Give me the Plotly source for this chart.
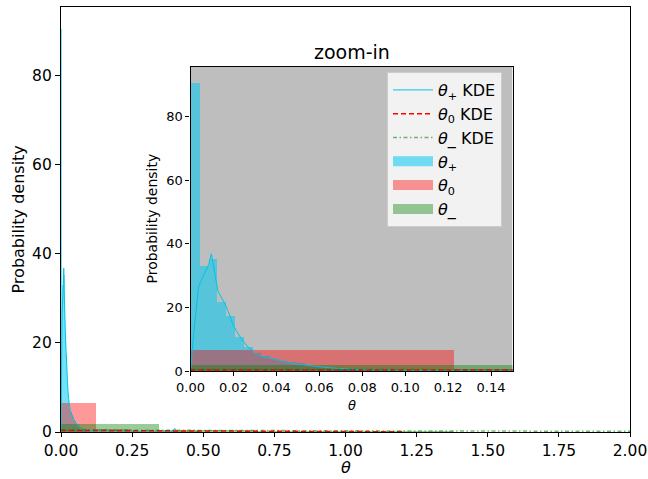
import numpy as np
import plotly.graph_objects as go

# ---------------- data ----------------
# theta_+ histogram (density), equal-width bins starting at 0
plus_bin_width = 0.0041
plus_density = [90.5, 33.1, 35.2, 21.8, 17.3, 10.8, 7.5, 5.5, 4.6, 3.9, 3.3, 2.8,
                2.4, 2.0, 1.7, 1.4, 1.2, 1.0, 0.85, 0.7, 0.6, 0.5, 0.42, 0.35,
                0.3, 0.25, 0.2, 0.17, 0.14, 0.12, 0.1, 0.08, 0.06, 0.05, 0.04]
# theta_0 histogram
zero_bin_width = 0.1225
zero_density = [6.6, 0.7, 0.25, 0.12, 0.08, 0.06, 0.05, 0.03, 0.02, 0.02]
# theta_- histogram
minus_bin_width = 0.345
minus_density = [1.8, 0.35, 0.15, 0.12, 0.1, 0.08, 0.06, 0.05, 0.04, 0.03]

# KDE curves
plus_kde_x = [0.0, 0.0015, 0.0038, 0.0068, 0.0085, 0.0097, 0.011, 0.0128, 0.0159,
              0.018, 0.0201, 0.022, 0.024, 0.0268, 0.0287, 0.031, 0.0326, 0.0365,
              0.0396, 0.043, 0.046, 0.05, 0.055, 0.059, 0.065, 0.073, 0.08, 0.088,
              0.095, 0.104, 0.12, 0.15, 0.2, 0.3, 0.38, 0.395, 0.4, 0.405, 0.41]
plus_kde_y = [0.0, 12.0, 26.6, 30.8, 33.5, 36.8, 32.0, 25.0, 21.3, 18.0, 14.0, 12.0,
              9.8, 7.5, 6.6, 5.2, 4.7, 4.2, 3.6, 3.0, 2.6, 2.2, 1.7, 1.4, 1.0, 0.6,
              0.4, 0.3, 0.2, 0.1, 0.05, 0.02, 0.01, 0.005, 0.01, 0.3, 0.8, 0.2, 0.0]
zero_kde_x = [0.0, 0.1, 0.2, 0.3, 0.4, 0.6, 0.8, 1.0, 1.2]
zero_kde_y = [0.35, 0.33, 0.3, 0.27, 0.22, 0.15, 0.1, 0.07, 0.05]
minus_kde_x = [0.0, 0.2, 0.35, 0.5, 0.7, 1.0, 1.3, 1.6, 2.0, 2.5, 3.0, 3.45]
minus_kde_y = [0.45, 0.4, 0.32, 0.3, 0.28, 0.25, 0.22, 0.2, 0.18, 0.12, 0.08, 0.05]

main_x_ticks = [0.0, 0.25, 0.5, 0.75, 1.0, 1.25, 1.5, 1.75, 2.0]
inset_x_ticks = [0.0, 0.02, 0.04, 0.06, 0.08, 0.10, 0.12, 0.14]
y_ticks = [0, 20, 40, 60, 80]

# ---------------- styles ----------------
C_PLUS_BAR = "rgba(0,200,240,0.55)"
C_PLUS_LINE = "#00c3e6"
C_ZERO_BAR = "rgba(255,0,0,0.4)"
C_MINUS_BAR = "rgba(0,128,0,0.4)"
FONT = "DejaVu Sans"
X_MAIN = [0, 2]
X_INSET = [0, 0.15]
Y_RANGE = [0, 95.5]

fig = go.Figure()


def edges(width, n):
    return [i * width for i in range(n)]


for xa, ya in [("x", "y"), ("x2", "y2")]:
    fig.add_trace(go.Bar(x=edges(plus_bin_width, len(plus_density)), y=plus_density,
                         width=plus_bin_width, offset=0, marker_color=C_PLUS_BAR,
                         marker_line_width=0, showlegend=False, xaxis=xa, yaxis=ya))
    fig.add_trace(go.Bar(x=edges(zero_bin_width, len(zero_density)), y=zero_density,
                         width=zero_bin_width, offset=0, marker_color=C_ZERO_BAR,
                         marker_line_width=0, showlegend=False, xaxis=xa, yaxis=ya))
    fig.add_trace(go.Bar(x=edges(minus_bin_width, len(minus_density)), y=minus_density,
                         width=minus_bin_width, offset=0, marker_color=C_MINUS_BAR,
                         marker_line_width=0, showlegend=False, xaxis=xa, yaxis=ya))
    show = xa == "x2"
    fig.add_trace(go.Scatter(x=plus_kde_x, y=plus_kde_y, mode="lines",
                             line=dict(color=C_PLUS_LINE, width=1),
                             name="<i>θ</i><sub>+</sub> KDE", showlegend=show,
                             xaxis=xa, yaxis=ya))
    fig.add_trace(go.Scatter(x=zero_kde_x, y=zero_kde_y, mode="lines",
                             line=dict(color="red", width=1.5, dash="5px,3px"),
                             name="<i>θ</i><sub>0</sub> KDE", showlegend=show,
                             xaxis=xa, yaxis=ya))
    fig.add_trace(go.Scatter(x=minus_kde_x, y=minus_kde_y, mode="lines",
                             line=dict(color="rgba(0,128,0,0.55)", width=1.5,
                                       dash="4px,2.5px,1.5px,2.5px"),
                             name="<i>θ</i>_ KDE", showlegend=show,
                             xaxis=xa, yaxis=ya))

# legend patches for histograms
for name, col in [("<i>θ</i><sub>+</sub>", C_PLUS_BAR), ("<i>θ</i><sub>0</sub>", C_ZERO_BAR),
                  ("<i>θ</i>_", C_MINUS_BAR)]:
    fig.add_trace(go.Scatter(x=[None], y=[None], mode="lines", line=dict(color=col, width=10),
                             name=name, xaxis="x2", yaxis="y2"))

W, H = 648, 479
mx0, mx1, my0, my1 = 61, 630, 7, 432
ix0, ix1, iy0, iy1 = 190.5, 512.5, 67, 371

axis_common = dict(showline=True, linecolor="black", linewidth=1.2, mirror=True,
                   ticks="outside", tickcolor="black", showgrid=False, zeroline=False)


def ann(text, px, py, size, angle=0):
    return dict(text=text, x=px / W, y=1 - py / H, xref="paper", yref="paper",
                xanchor="center", yanchor="middle", showarrow=False, textangle=angle,
                font=dict(size=size, family=FONT, color="black"))


fig.update_layout(
    width=W, height=H, margin=dict(l=0, r=0, t=0, b=0, autoexpand=False),
    paper_bgcolor="white", plot_bgcolor="white",
    barmode="overlay", bargap=0,
    font=dict(family=FONT, color="black"),
    xaxis=dict(domain=[mx0 / W, mx1 / W], range=X_MAIN, tickvals=main_x_ticks,
               ticktext=[f"{v:.2f}" for v in main_x_ticks], ticklen=4,
               tickfont=dict(family=FONT, color="black", size=15.5), **axis_common),
    yaxis=dict(domain=[1 - my1 / H, 1 - my0 / H], range=Y_RANGE, tickvals=y_ticks, ticklen=5,
               tickfont=dict(family=FONT, color="black", size=15.5), **axis_common),
    xaxis2=dict(domain=[ix0 / W, ix1 / W], range=X_INSET, tickvals=inset_x_ticks,
                ticktext=[f"{v:.2f}" for v in inset_x_ticks], anchor="y2", ticklen=4,
                tickfont=dict(family=FONT, color="black", size=13), **axis_common),
    yaxis2=dict(domain=[1 - iy1 / H, 1 - iy0 / H], range=Y_RANGE, tickvals=y_ticks,
                anchor="x2", ticklen=4,
                tickfont=dict(family=FONT, color="black", size=13), **axis_common),
    legend=dict(x=387 / W, y=1 - 72 / H, xanchor="left", yanchor="top",
                bgcolor="rgba(255,255,255,0.8)", bordercolor="#cccccc", borderwidth=1,
                font=dict(family=FONT, size=16, color="black"), itemwidth=40,
                tracegroupgap=0),
    shapes=[dict(type="rect", xref="x2", yref="y2", x0=X_INSET[0], x1=X_INSET[1],
                 y0=Y_RANGE[0], y1=Y_RANGE[1],
                 fillcolor="#bebebe", line_width=0, layer="below")],
    annotations=[
        ann("Probability density", 18, (my0 + my1) / 2, 16, -90),
        ann("<i>θ</i>", (mx0 + mx1) / 2, 467, 16),
        ann("Probability density", 151.5, (iy0 + iy1) / 2, 14, -90),
        ann("<i>θ</i>", (ix0 + ix1) / 2, 405, 13),
        ann("zoom-in", (ix0 + ix1) / 2, 51.5, 19),
    ],
)

fig.write_html("out.html", config={"displayModeBar": False},
               post_script="document.body.style.margin='0px';")
